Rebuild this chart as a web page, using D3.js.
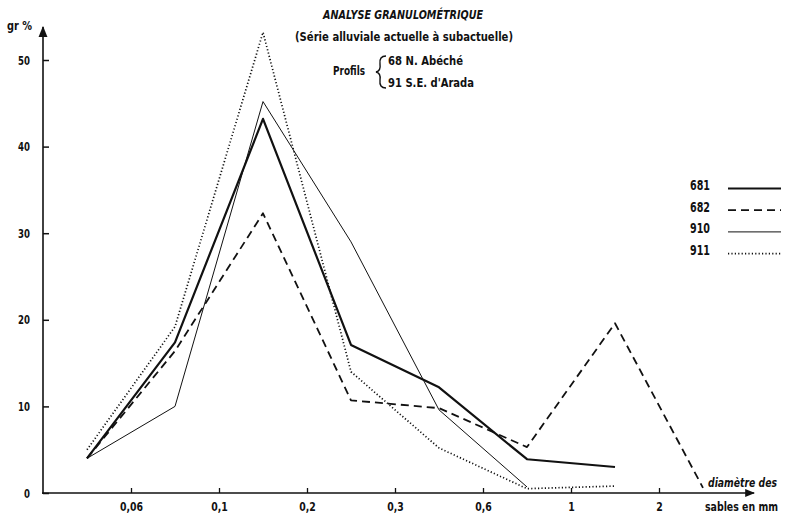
<!DOCTYPE html>
<html>
<head>
<meta charset="utf-8">
<script src="https://cdn.jsdelivr.net/npm/d3@7"></script>
<style>
  body { margin: 0; background: #fff; }
  svg text { font-family: "DejaVu Sans", sans-serif; font-weight: bold; fill: #111; }
</style>
</head>
<body>
<div id="chart"></div>
<script>
// sieve classes (points sit between the size limits)
const sizeLabels = ["0,06", "0,1", "0,2", "0,3", "0,6", "1", "2"]
const yTicks = [0, 10, 20, 30, 40, 50]

// gr % per class
const s681 = [4, 17.4, 43.2, 17.1, 12.2, 3.9, 3.0]
const s682 = [4, 16.4, 32.3, 10.7, 9.8, 5.3, 19.6, 0.6]
const s910 = [4, 10, 45.2, 29, 9.6, 0.7]
const s911 = [5, 19.2, 53.2, 14, 5.2, 0.5, 0.8]

const seriesNames = ["681", "682", "910", "911"]
const seriesValues = [s681, s682, s910, s911]

const styles = {
    "681": { w: 2.2, dash: null },
    "682": { w: 1.8, dash: "8,5" },
    "910": { w: 1, dash: null },
    "911": { w: 1.7, dash: "1.2,2.2" }
}

var width = 786, height = 514

var svg = d3.select("#chart").append("svg")
    .attr("width", width)
    .attr("height", height)

var x = d3.scaleLinear().domain([0, 7]).range([87, 703])
var y = d3.scaleLinear().domain([0, 50]).range([493, 60])

// squeeze a text to a condensed look (no narrow font in the sandbox)
const squeeze = (sel, f) => sel.each(function () {
    var w = this.getComputedTextLength()
    d3.select(this).attr("textLength", w * f).attr("lengthAdjust", "spacingAndGlyphs")
})

// axes
var yAxis = d3.axisLeft(y)
    .tickValues(yTicks)
    .tickSize(-6)
    .tickPadding(13)
    .tickFormat(d3.format("d"))

svg.append("g")
    .attr("transform", "translate(43,0)")
    .call(yAxis)
    .call(g => g.select(".domain").remove())
    .call(g => g.selectAll("line").attr("stroke", "#111").attr("stroke-width", 1.5))
    .call(g => g.selectAll("text").style("font-size", "13px").call(squeeze, 0.66))

var xAxis = d3.axisBottom(x)
    .tickValues(sizeLabels.map((d, i) => i + 0.5))
    .tickSize(-5)
    .tickPadding(9)
    .tickFormat((d, i) => sizeLabels[i])

svg.append("g")
    .attr("transform", "translate(0,493)")
    .call(xAxis)
    .call(g => g.select(".domain").remove())
    .call(g => g.selectAll("line").attr("stroke", "#111").attr("stroke-width", 1.3))
    .call(g => g.selectAll("text").style("font-size", "13px").call(squeeze, 0.72))

// axis lines with arrows
svg.append("defs").append("marker")
    .attr("id", "arrow")
    .attr("viewBox", "0 0 10 10")
    .attr("refX", 9).attr("refY", 5)
    .attr("markerWidth", 7).attr("markerHeight", 7)
    .attr("orient", "auto")
    .append("path")
    .attr("d", "M0,1 L10,5 L0,9 Z")
    .attr("fill", "#111")

svg.append("line")
    .attr("x1", 43).attr("y1", 494).attr("x2", 43).attr("y2", 27)
    .attr("stroke", "#111").attr("stroke-width", 1.6)
    .attr("marker-end", "url(#arrow)")

svg.append("line")
    .attr("x1", 42).attr("y1", 493).attr("x2", 754).attr("y2", 493)
    .attr("stroke", "#111").attr("stroke-width", 1.4)
    .attr("marker-end", "url(#arrow)")

// series
var line = d3.line()
    .x((d, i) => x(i))
    .y(d => y(d))

seriesNames.forEach((name, k) => {
    svg.append("path")
        .datum(seriesValues[k])
        .attr("d", line)
        .attr("fill", "none")
        .attr("stroke", "#111")
        .attr("stroke-width", styles[name].w)
        .attr("stroke-dasharray", styles[name].dash)
        .attr("stroke-linejoin", "round")
})

// text with a fixed width, as in the reference
const label = (tx, ty, str, size, len, italic) => svg.append("text")
    .attr("x", tx).attr("y", ty)
    .style("font-size", size + "px")
    .style("font-style", italic ? "italic" : "normal")
    .attr("textLength", len)
    .attr("lengthAdjust", "spacingAndGlyphs")
    .text(str)

// legend
seriesNames.forEach((name, k) => {
    var ly = 190 + k * 21.7
    label(690, ly, name, 14, 20)
    svg.append("line")
        .attr("x1", 728).attr("x2", 781)
        .attr("y1", ly - 1.5).attr("y2", ly - 1.5)
        .attr("stroke", "#111")
        .attr("stroke-width", styles[name].w)
        .attr("stroke-dasharray", styles[name].dash)
})

// titles
label(323, 19, "ANALYSE GRANULOMÉTRIQUE", 12.5, 160, true)
label(295, 41, "(Série alluviale actuelle à  subactuelle)", 13, 218)
label(333, 75, "Profils", 13, 32)
label(388, 65, "68 N. Abéché", 13, 75)
label(388, 87, "91 S.E. d'Arada", 13, 86)

// brace
svg.append("path")
    .attr("d", "M386,56 Q379,56 380,64 Q381,71 376,72 Q381,73 380,80 Q379,88 386,88")
    .attr("fill", "none")
    .attr("stroke", "#111")
    .attr("stroke-width", 1.4)

label(7, 30, "gr %", 13, 25)
label(708, 487, "diamètre des", 13, 69, true)
label(705, 511, "sables en mm", 13, 73)
</script>
</body>
</html>
